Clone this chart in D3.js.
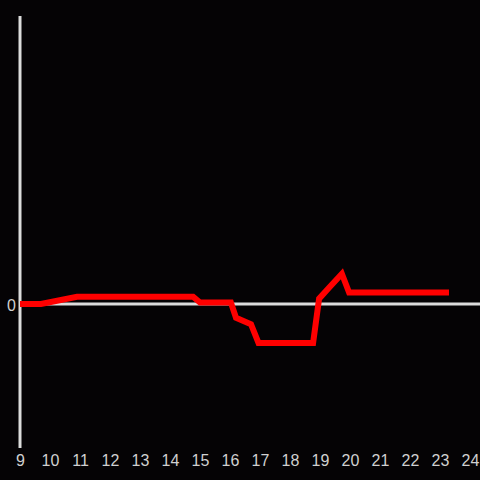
<!DOCTYPE html>
<html>
<head>
<meta charset="utf-8">
<script src="https://cdn.jsdelivr.net/npm/d3@7"></script>
<style>
  body { margin: 0; background: #050305; }
  svg { display: block; }
</style>
</head>
<body>
<svg></svg>
<script>
// hours of the day (x) and readings (y)
var hours = [9, 9.7, 10.9, 14.77, 15.0, 16.03, 16.2, 16.7, 16.95, 18.77, 18.97, 19.3, 19.73, 19.97, 23.3];
var values = [0, 0, 0.5, 0.5, 0.1, 0.1, -0.95, -1.4, -2.7, -2.7, 0.37, 1.13, 2.1, 0.8, 0.8];
var xTicks = d3.range(9, 25);
var yTicks = [0];

var width = 480, height = 480;

var svg = d3.select("svg")
	.attr("width", width)
	.attr("height", height);

svg.append("rect")
	.attr("width", width)
	.attr("height", height)
	.attr("fill", "#050305");

// scales
var x = d3.scaleLinear().domain([9, 24]).range([20, 470]);
var y = d3.scaleLinear().domain([-10, 20]).range([448, 16]);

// y axis line
svg.append("line")
	.attr("x1", x(9)).attr("x2", x(9))
	.attr("y1", y(20)).attr("y2", y(-10))
	.attr("stroke", "#dcdcdc")
	.attr("stroke-width", 3);

// zero line
svg.append("line")
	.attr("x1", x(9)).attr("x2", width)
	.attr("y1", y(0)).attr("y2", y(0))
	.attr("stroke", "#dcdcdc")
	.attr("stroke-width", 3);

// x tick labels
var xAxis = svg.append("g")
	.attr("transform", "translate(0," + 455 + ")")
	.call(d3.axisBottom(x).tickValues(xTicks).tickSize(0).tickPadding(0).tickFormat(d3.format("d")));
xAxis.select(".domain").remove();
xAxis.selectAll("text")
	.attr("fill", "#d0d0d0")
	.attr("dy", "0.71em")
	.style("font-family", "'Liberation Sans', Arial, sans-serif")
	.style("font-size", "16px");

// y tick label
var yAxis = svg.append("g")
	.attr("transform", "translate(16,1)")
	.call(d3.axisLeft(y).tickValues(yTicks).tickSize(0).tickPadding(0));
yAxis.select(".domain").remove();
yAxis.selectAll("text")
	.attr("fill", "#d0d0d0")
	.style("font-family", "'Liberation Sans', Arial, sans-serif")
	.style("font-size", "16px");

// the line
var data = hours.map(function(h, i) { return [h, values[i]]; });
var line = d3.line()
	.x(function(d) { return x(d[0]); })
	.y(function(d) { return y(d[1]); });

svg.append("path")
	.datum(data)
	.attr("d", line)
	.attr("fill", "none")
	.attr("stroke", "#ff0000")
	.attr("stroke-width", 6)
	.attr("stroke-linejoin", "miter");
</script>
</body>
</html>
